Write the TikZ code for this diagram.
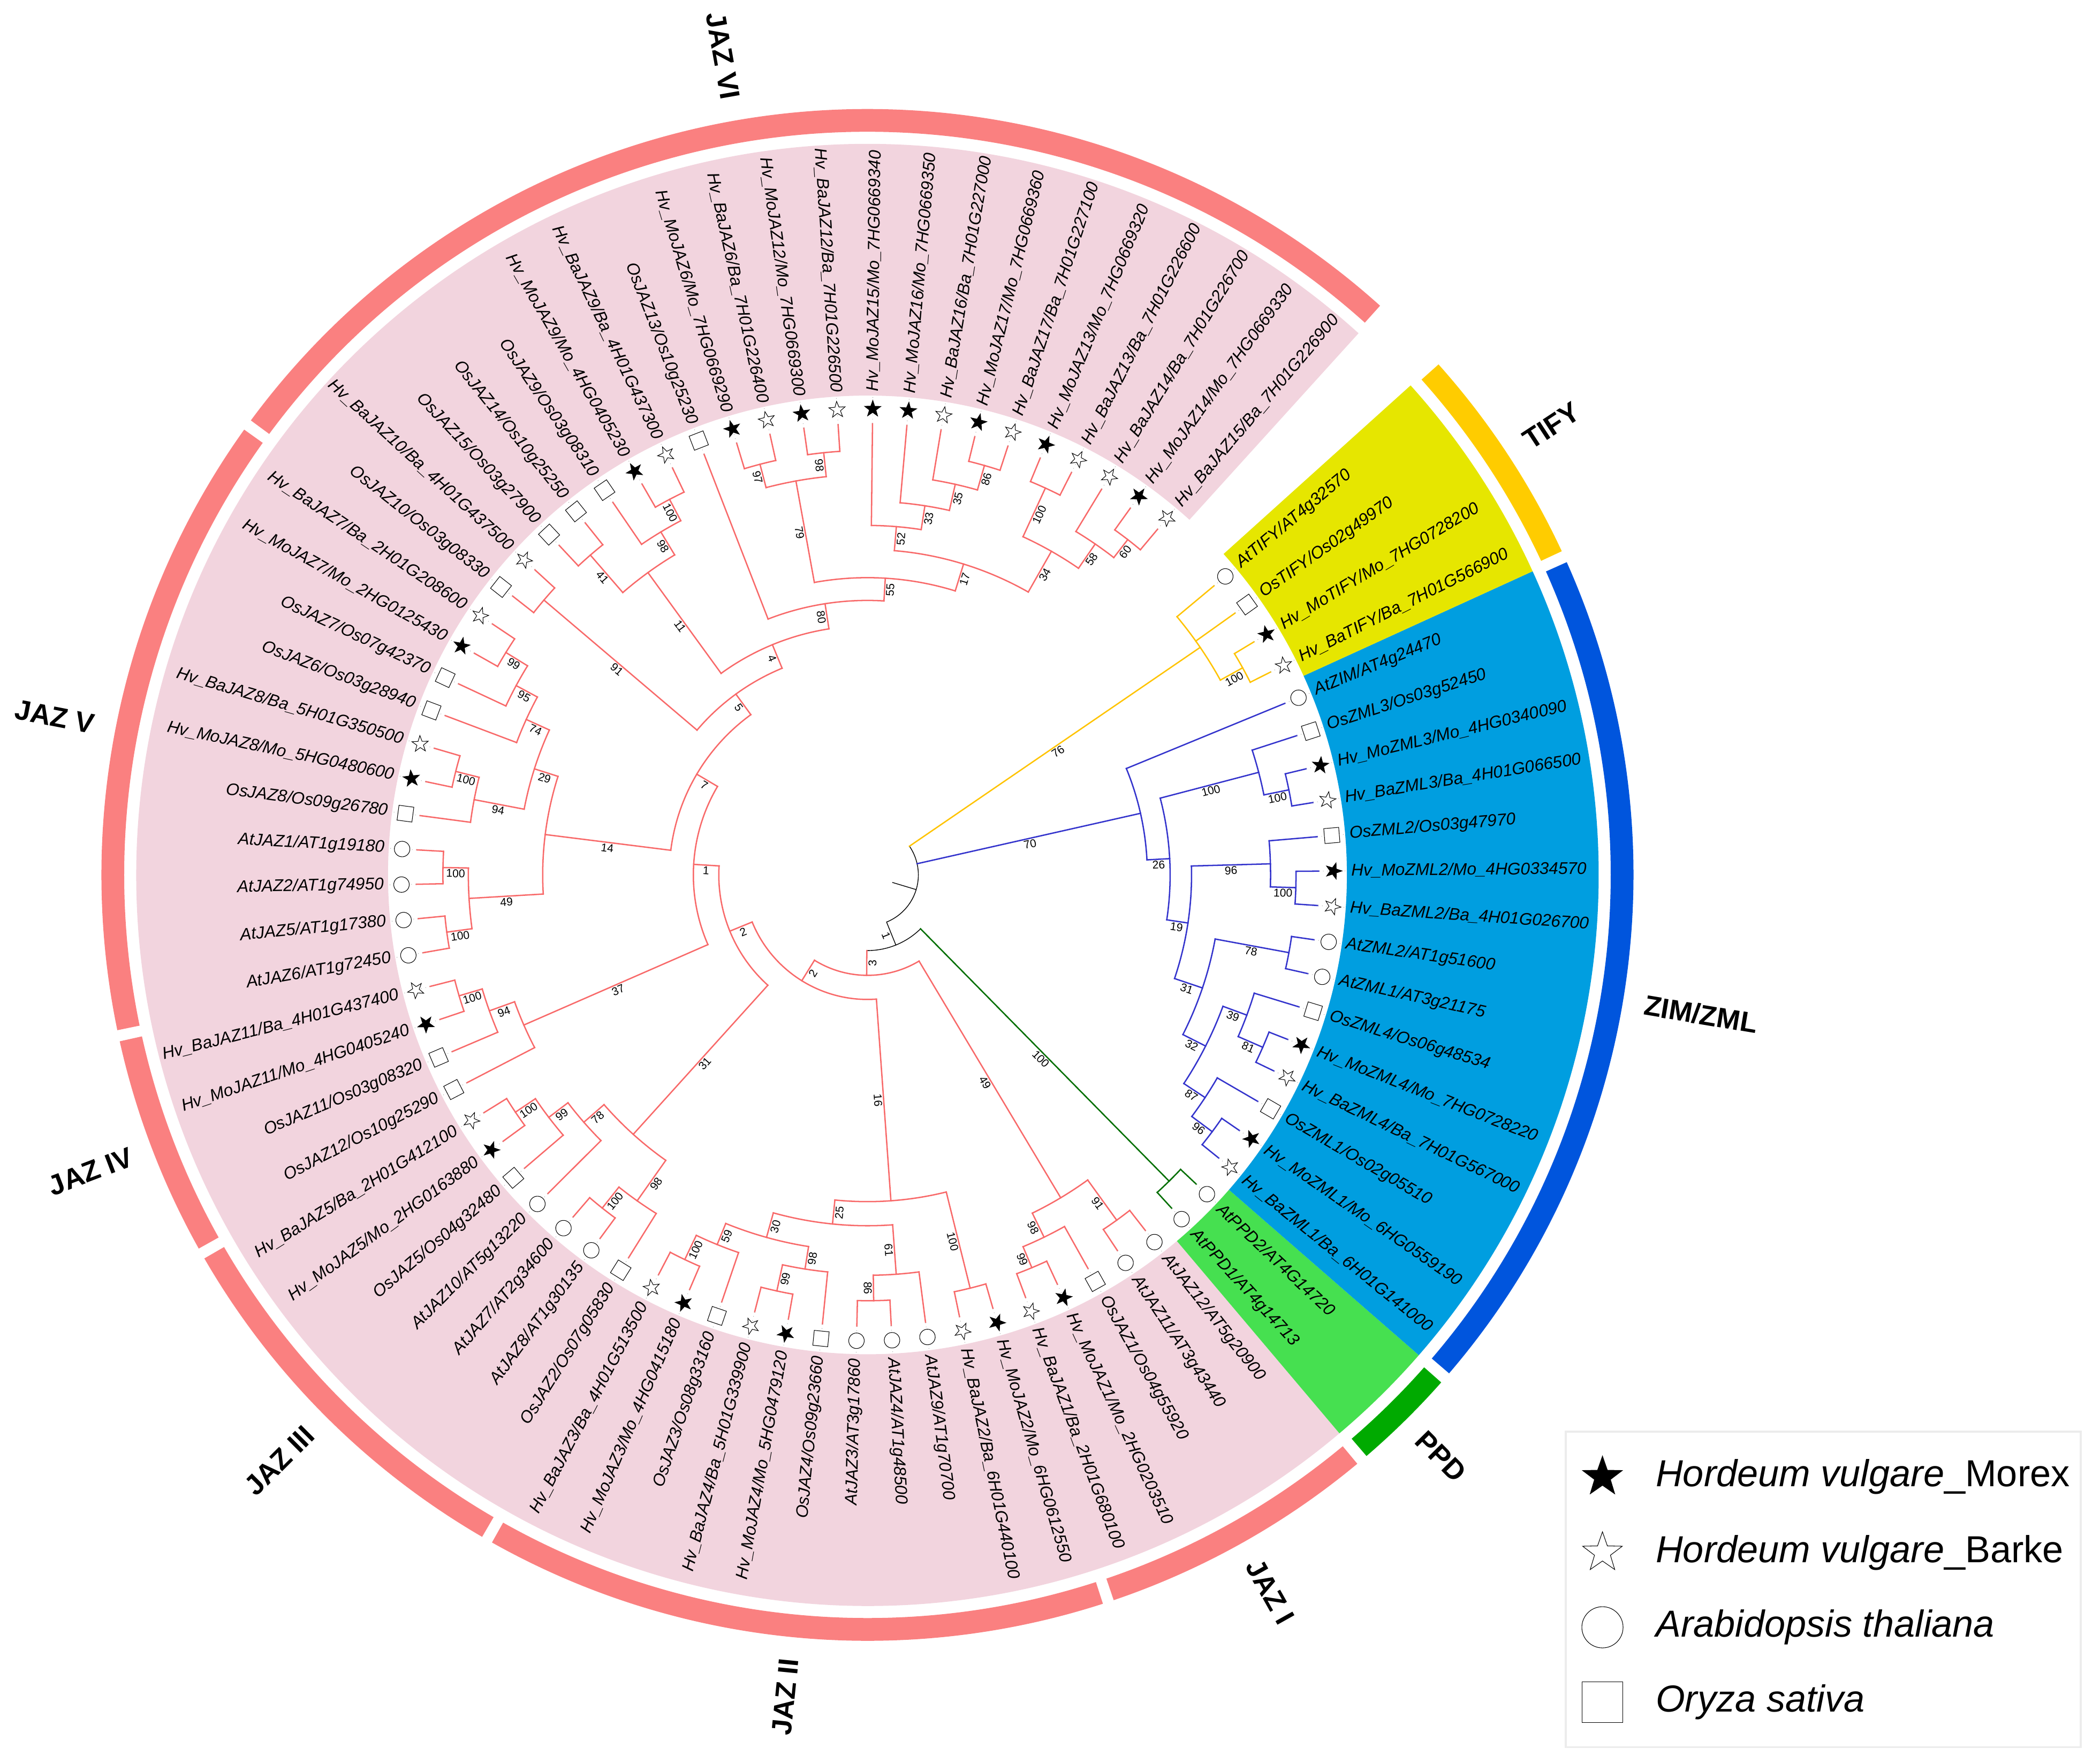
\documentclass[tikz,border=0pt]{standalone}
\usepackage{fontspec}
\setmainfont{Liberation Sans}
\usetikzlibrary{shapes.geometric,positioning}

\definecolor{jazline}{RGB}{248,105,105}
\definecolor{jazring}{RGB}{250,128,128}
\definecolor{jazbg}{RGB}{242,212,222}
\definecolor{tifyline}{RGB}{255,195,0}
\definecolor{tifyring}{RGB}{255,204,0}
\definecolor{tifybg}{RGB}{230,230,0}
\definecolor{zimline}{RGB}{51,51,204}
\definecolor{zimring}{RGB}{0,85,221}
\definecolor{zimbg}{RGB}{0,158,224}
\definecolor{ppdline}{RGB}{0,110,0}
\definecolor{ppdring}{RGB}{0,170,0}
\definecolor{ppdbg}{RGB}{70,224,80}

\tikzset{
  branch/.style={line width=0.72pt, line cap=rect},
  rootline/.style={black, line width=0.4pt},
  boot/.style={font=\fontsize{6}{7}\selectfont, anchor=north, inner sep=0.7pt},
  leaflab/.style={font=\fontsize{9}{10}\selectfont\itshape, inner sep=0pt},
  grouplab/.style={font=\fontsize{15}{17}\selectfont\bfseries, inner sep=0pt},
  guide/.style={gray!70, dotted, line width=0.3pt},
  morex/.style={star, star points=5, star point ratio=2.5, draw=black, fill=black, line width=0.3pt, minimum size=0.32cm, inner sep=0pt},
  barke/.style={morex, fill=white},
  thal/.style={circle, draw=black, fill=white, line width=0.3pt, minimum size=0.29cm, inner sep=0pt},
  oryza/.style={rectangle, draw=black, fill=white, line width=0.3pt, minimum size=0.28cm, inner sep=0pt},
  keytext/.style={font=\fontsize{20}{24}\selectfont, inner sep=0pt}
}

% colour, parent radius, node radius, first child angle, last child angle, support
\newcommand{\clade}[6]{%
  \pgfmathsetmacro{\cladeang}{(#4+#5)/2}%
  \pgfmathsetmacro{\cladmid}{(#2+#3)/2}%
  \pgfmathsetmacro{\cladrot}{cos(\cladeang)>=0 ? \cladeang : \cladeang-180}%
  \draw[branch, #1] (\cladeang:#2) -- (\cladeang:#3);
  \draw[branch, #1] (#4:#3) arc[start angle=#4, end angle=#5, radius=#3];
  \node[boot, rotate=\cladrot] at (\cladeang:\cladmid) {#6};}

\newcommand{\leaflines}[3]{%
  \foreach \k in {#3} {%
    \pgfmathsetmacro{\tipang}{50+4.373*\k}%
    \draw[branch, #1] (\tipang:#2) -- (\tipang:337);}}

\newcommand{\sector}[3]{%
  \fill[#1] (#2:358) arc[start angle=#2, end angle=#3, radius=358]
    -- (#3:546) arc[start angle=#3, end angle=#2, radius=546] -- cycle;}

\newcommand{\band}[3]{%
  \fill[#1] (#2:555) arc[start angle=#2, end angle=#3, radius=555]
    -- (#3:572) arc[start angle=#3, end angle=#2, radius=572] -- cycle;}

\begin{document}
\begin{tikzpicture}[x=0.02502cm, y=0.02502cm]
\useasboundingbox (-647.7,-663.6) rectangle (920.3,653.4);

\sector{jazbg}{47.81}{310.20}
\sector{ppdbg}{310.20}{318.94}
\sector{zimbg}{318.94}{384.54}
\sector{tifybg}{384.54}{402.03}

\band{jazring}{48.0}{143.6}
\band{jazring}{144.45}{191.7}
\band{jazring}{192.55}{209.2}
\band{jazring}{210.05}{239.8}
\band{jazring}{240.65}{287.9}
\band{jazring}{288.75}{309.75}
\band{ppdring}{310.65}{318.5}
\band{zimring}{319.4}{384.1}
\band{tifyring}{385.0}{401.8}

\foreach \g/\ga in {JAZ VI/100, JAZ V/169, JAZ IV/200.9, JAZ III/224.9, JAZ II/264.3, JAZ I/299.3, PPD/314.6, ZIM\slash ZML/350.5, TIFY/33.3} {
  \pgfmathsetmacro{\grot}{cos(\ga)>=0 ? \ga : \ga-180}
  \pgfmathsetmacro{\gside}{cos(\ga)>=0 ? 1 : 0}
  \ifdim\gside pt>0.5pt \def\ganc{west}\else\def\ganc{east}\fi
  \node[grouplab, rotate=\grot, anchor=\ganc] at (\ga:588) {\g};
}

% root
\draw[rootline] (-16.8:19.4) -- (-16.8:38);
\draw[rootline] (-67.95:38) arc[start angle=-67.95, end angle=34.37, radius=38];
\clade{rootline}{38}{56.5}{-90.46}{-45.435}{1}

% TIFY
\clade{tifyline}{38}{301}{28.905}{39.84}{76}
\clade{tifyline}{301}{320}{26.72}{31.09}{100}
\leaflines{tifyline}{301}{79,80}
\leaflines{tifyline}{320}{77,78}

% ZIM / ZML
\clade{zimline}{38}{209}{3.08}{22.35}{70}
\clade{zimline}{209}{226}{-8.535}{14.70}{26}
\clade{zimline}{226}{302}{11.415}{17.98}{100}
\clade{zimline}{302}{321}{9.23}{13.60}{100}
\clade{zimline}{226}{242}{-18.65}{1.58}{19}
\clade{zimline}{242}{301}{-1.705}{4.86}{96}
\clade{zimline}{301}{320}{-3.89}{0.48}{100}
\clade{zimline}{242}{264}{-26.85}{-10.45}{31}
\clade{zimline}{264}{320}{-12.64}{-8.26}{78}
\clade{zimline}{264}{283}{-33.41}{-20.29}{32}
\clade{zimline}{283}{302}{-23.565}{-17.01}{39}
\clade{zimline}{302}{322}{-25.75}{-21.38}{81}
\clade{zimline}{283}{302}{-36.685}{-30.13}{87}
\clade{zimline}{302}{321}{-38.87}{-34.50}{96}
\leaflines{zimline}{209}{76}
\leaflines{zimline}{302}{75,67,64}
\leaflines{zimline}{321}{73,74,62,63}
\leaflines{zimline}{301}{72}
\leaflines{zimline}{320}{70,71,68,69}
\leaflines{zimline}{322}{65,66}

% PPD
\clade{ppdline}{56.5}{321}{-47.62}{-43.25}{100}
\leaflines{ppdline}{321}{60,61}

% JAZ
\clade{jazline}{56.5}{75}{-121.825}{-59.10}{3}
\clade{jazline}{75}{281}{-64.02}{-54.18}{49}
\clade{jazline}{281}{301}{-67.295}{-60.74}{98}
\clade{jazline}{301}{318}{-69.48}{-65.11}{99}
\clade{jazline}{281}{318}{-56.37}{-51.99}{91}
\leaflines{jazline}{301}{57}
\leaflines{jazline}{318}{55,56,58,59}

\clade{jazline}{75}{93}{202.23}{274.12}{2}
\clade{jazline}{93}{244}{264.28}{283.955}{16}
\clade{jazline}{244}{318}{281.77}{286.14}{100}
\clade{jazline}{244}{262}{254.44}{274.12}{25}
\clade{jazline}{262}{281}{247.88}{261.00}{30}
\clade{jazline}{281}{298}{244.60}{251.16}{59}
\clade{jazline}{298}{318}{242.41}{246.79}{100}
\clade{jazline}{281}{298}{257.715}{264.28}{98}
\clade{jazline}{298}{318}{255.53}{259.90}{99}
\clade{jazline}{262}{299}{270.835}{277.40}{61}
\clade{jazline}{299}{318}{268.65}{273.02}{86}
\leaflines{jazline}{318}{53,54,50,51,47,48,44,45}
\leaflines{jazline}{299}{52}
\leaflines{jazline}{298}{49,46}

\clade{jazline}{93}{111}{176.53}{227.93}{2}
\clade{jazline}{111}{261}{221.095}{234.76}{31}
\clade{jazline}{261}{281}{217.27}{224.92}{78}
\clade{jazline}{281}{299}{213.985}{220.55}{99}
\clade{jazline}{299}{317}{211.80}{216.17}{100}
\clade{jazline}{261}{298}{231.48}{238.04}{98}
\clade{jazline}{298}{318}{229.29}{233.67}{100}
\leaflines{jazline}{298}{43}
\leaflines{jazline}{318}{41,42}
\leaflines{jazline}{281}{40}
\leaflines{jazline}{299}{39}
\leaflines{jazline}{317}{37,38}

\clade{jazline}{111}{130}{149.45}{203.605}{1}
\clade{jazline}{130}{280}{199.78}{207.43}{37}
\clade{jazline}{280}{300}{196.495}{203.06}{94}
\clade{jazline}{300}{318}{194.31}{198.68}{100}
\leaflines{jazline}{280}{36}
\leaflines{jazline}{300}{35}
\leaflines{jazline}{318}{33,34}

\clade{jazline}{130}{148}{126.04}{172.855}{7}
\clade{jazline}{148}{242.5}{162.33}{183.38}{14}
\clade{jazline}{242.5}{261}{155.50}{169.16}{29}
\clade{jazline}{261}{280}{151.67}{159.33}{74}
\clade{jazline}{280}{298}{148.395}{154.95}{95}
\clade{jazline}{298}{317}{146.21}{150.58}{99}
\clade{jazline}{261}{299}{165.885}{172.44}{94}
\clade{jazline}{299}{317}{163.70}{168.07}{100}
\clade{jazline}{242.5}{298}{179.005}{187.75}{49}
\clade{jazline}{298}{317}{176.82}{181.19}{100}
\clade{jazline}{298}{317}{185.56}{189.94}{100}
\leaflines{jazline}{280}{25}
\leaflines{jazline}{298}{24}
\leaflines{jazline}{299}{28}
\leaflines{jazline}{317}{22,23,26,27,29,30,31,32}

\clade{jazline}{148}{167}{112.435}{139.645}{5}
\clade{jazline}{167}{317}{137.46}{141.83}{91}
\clade{jazline}{167}{186}{98.89}{125.98}{4}
\clade{jazline}{186}{279}{121.06}{130.90}{11}
\clade{jazline}{279}{299}{117.785}{124.34}{98}
\clade{jazline}{299}{317}{115.60}{119.97}{100}
\clade{jazline}{279}{316}{128.71}{133.09}{41}
\clade{jazline}{186}{205}{86.56}{111.22}{80}
\clade{jazline}{205}{222}{72.825}{100.29}{55}
\clade{jazline}{222}{299}{95.915}{104.665}{79}
\clade{jazline}{299}{317}{102.48}{106.85}{97}
\clade{jazline}{299}{317}{93.73}{98.10}{98}
\clade{jazline}{222}{243}{60.39}{85.26}{17}
\clade{jazline}{243}{261}{81.155}{89.36}{52}
\clade{jazline}{261}{279}{77.33}{84.98}{33}
\clade{jazline}{279}{299}{74.055}{80.61}{35}
\clade{jazline}{299}{318}{71.87}{76.24}{86}
\clade{jazline}{243}{278}{55.47}{65.305}{34}
\clade{jazline}{278}{318}{63.12}{67.49}{100}
\clade{jazline}{278}{300}{52.185}{58.75}{58}
\clade{jazline}{300}{317}{50.00}{54.37}{60}
\leaflines{jazline}{317}{20,21,15,16,12,13,10,11,0,1}
\leaflines{jazline}{299}{17,7}
\leaflines{jazline}{316}{18,19}
\leaflines{jazline}{205}{14}
\leaflines{jazline}{261}{9}
\leaflines{jazline}{279}{8}
\leaflines{jazline}{318}{5,6,3,4}
\leaflines{jazline}{300}{2}

% leaves
\foreach \i/\ga/\gb/\kind in {
  0/Hv\_BaJAZ15/Ba\_7H01G226900/barke, 1/Hv\_MoJAZ14/Mo\_7HG0669330/morex,
  2/Hv\_BaJAZ14/Ba\_7H01G226700/barke, 3/Hv\_BaJAZ13/Ba\_7H01G226600/barke,
  4/Hv\_MoJAZ13/Mo\_7HG0669320/morex, 5/Hv\_BaJAZ17/Ba\_7H01G227100/barke,
  6/Hv\_MoJAZ17/Mo\_7HG0669360/morex, 7/Hv\_BaJAZ16/Ba\_7H01G227000/barke,
  8/Hv\_MoJAZ16/Mo\_7HG0669350/morex, 9/Hv\_MoJAZ15/Mo\_7HG0669340/morex,
  10/Hv\_BaJAZ12/Ba\_7H01G226500/barke, 11/Hv\_MoJAZ12/Mo\_7HG0669300/morex,
  12/Hv\_BaJAZ6/Ba\_7H01G226400/barke, 13/Hv\_MoJAZ6/Mo\_7HG0669290/morex,
  14/OsJAZ13/Os10g25230/oryza, 15/Hv\_BaJAZ9/Ba\_4H01G437300/barke,
  16/Hv\_MoJAZ9/Mo\_4HG0405230/morex, 17/OsJAZ9/Os03g08310/oryza,
  18/OsJAZ14/Os10g25250/oryza, 19/OsJAZ15/Os03g27900/oryza,
  20/Hv\_BaJAZ10/Ba\_4H01G437500/barke, 21/OsJAZ10/Os03g08330/oryza,
  22/Hv\_BaJAZ7/Ba\_2H01G208600/barke, 23/Hv\_MoJAZ7/Mo\_2HG0125430/morex,
  24/OsJAZ7/Os07g42370/oryza, 25/OsJAZ6/Os03g28940/oryza,
  26/Hv\_BaJAZ8/Ba\_5H01G350500/barke, 27/Hv\_MoJAZ8/Mo\_5HG0480600/morex,
  28/OsJAZ8/Os09g26780/oryza, 29/AtJAZ1/AT1g19180/thal,
  30/AtJAZ2/AT1g74950/thal, 31/AtJAZ5/AT1g17380/thal,
  32/AtJAZ6/AT1g72450/thal, 33/Hv\_BaJAZ11/Ba\_4H01G437400/barke,
  34/Hv\_MoJAZ11/Mo\_4HG0405240/morex, 35/OsJAZ11/Os03g08320/oryza,
  36/OsJAZ12/Os10g25290/oryza, 37/Hv\_BaJAZ5/Ba\_2H01G412100/barke,
  38/Hv\_MoJAZ5/Mo\_2HG0163880/morex, 39/OsJAZ5/Os04g32480/oryza,
  40/AtJAZ10/AT5g13220/thal, 41/AtJAZ7/AT2g34600/thal,
  42/AtJAZ8/AT1g30135/thal, 43/OsJAZ2/Os07g05830/oryza,
  44/Hv\_BaJAZ3/Ba\_4H01G513500/barke, 45/Hv\_MoJAZ3/Mo\_4HG0415180/morex,
  46/OsJAZ3/Os08g33160/oryza, 47/Hv\_BaJAZ4/Ba\_5H01G339900/barke,
  48/Hv\_MoJAZ4/Mo\_5HG0479120/morex, 49/OsJAZ4/Os09g23660/oryza,
  50/AtJAZ3/AT3g17860/thal, 51/AtJAZ4/AT1g48500/thal,
  52/AtJAZ9/AT1g70700/thal, 53/Hv\_BaJAZ2/Ba\_6H01G440100/barke,
  54/Hv\_MoJAZ2/Mo\_6HG0612550/morex, 55/Hv\_BaJAZ1/Ba\_2H01G680100/barke,
  56/Hv\_MoJAZ1/Mo\_2HG0203510/morex, 57/OsJAZ1/Os04g55920/oryza,
  58/AtJAZ11/AT3g43440/thal, 59/AtJAZ12/AT5g20900/thal,
  60/AtPPD1/AT4g14713/thal, 61/AtPPD2/AT4G14720/thal,
  62/Hv\_BaZML1/Ba\_6H01G141000/barke, 63/Hv\_MoZML1/Mo\_6HG0559190/morex,
  64/OsZML1/Os02g05510/oryza, 65/Hv\_BaZML4/Ba\_7H01G567000/barke,
  66/Hv\_MoZML4/Mo\_7HG0728220/morex, 67/OsZML4/Os06g48534/oryza,
  68/AtZML1/AT3g21175/thal, 69/AtZML2/AT1g51600/thal,
  70/Hv\_BaZML2/Ba\_4H01G026700/barke, 71/Hv\_MoZML2/Mo\_4HG0334570/morex,
  72/OsZML2/Os03g47970/oryza, 73/Hv\_BaZML3/Ba\_4H01G066500/barke,
  74/Hv\_MoZML3/Mo\_4HG0340090/morex, 75/OsZML3/Os03g52450/oryza,
  76/AtZIM/AT4g24470/thal, 77/Hv\_BaTIFY/Ba\_7H01G566900/barke,
  78/Hv\_MoTIFY/Mo\_7HG0728200/morex, 79/OsTIFY/Os02g49970/oryza,
  80/AtTIFY/AT4g32570/thal} {
  \pgfmathsetmacro{\leafa}{50+4.373*\i}
  \pgfmathsetmacro{\leafrot}{cos(\leafa)>=0 ? \leafa : \leafa-180}
  \pgfmathsetmacro{\leafside}{cos(\leafa)>=0 ? 1 : 0}
  \ifdim\leafside pt>0.5pt \def\leafanc{west}\else\def\leafanc{east}\fi
  \draw[guide] (\leafa:337) -- (\leafa:359);
  \node[\kind, rotate=\leafa-90] (leaf\i) at (\leafa:348) {};
  \node[leaflab, rotate=\leafrot, anchor=\leafanc] (name\i) at (\leafa:361) {\ga/\gb};
}

% legend
\draw[gray!15, line width=1pt, fill=white] (521.4,-415.7) rectangle (905.8,-651.4);
\node[morex, minimum size=0.78cm] (keyM) at (548.8,-449.6) {};
\node[barke, minimum size=0.78cm, on grid, below=1.415cm of keyM] (keyB) {};
\node[thal, minimum size=0.77cm, on grid, below=1.395cm of keyB] (keyA) {};
\node[oryza, minimum size=0.76cm, on grid, below=1.395cm of keyA] (keyO) {};
\node[keytext, right=0.99cm of keyM.center] {\textit{Hordeum vulgare}\_Morex};
\node[keytext, right=0.99cm of keyB.center] {\textit{Hordeum vulgare}\_Barke};
\node[keytext, right=0.99cm of keyA.center] {\textit{Arabidopsis thaliana}};
\node[keytext, right=0.99cm of keyO.center] {\textit{Oryza sativa}};
\end{tikzpicture}
\end{document}
